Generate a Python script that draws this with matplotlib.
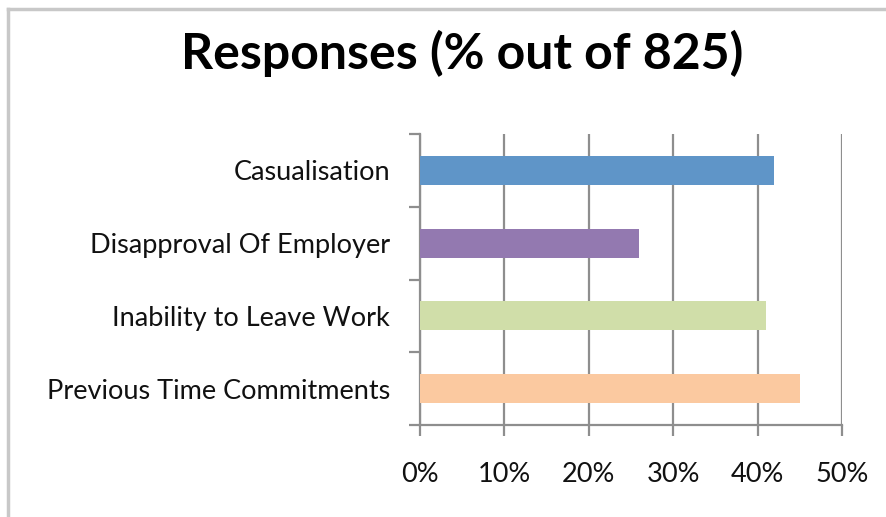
import matplotlib
matplotlib.use("Agg")
import matplotlib.pyplot as plt
from matplotlib.lines import Line2D
from matplotlib.ticker import FuncFormatter, FixedLocator

categories = [
    "Casualisation",
    "Disapproval Of Employer",
    "Inability to Leave Work",
    "Previous Time Commitments",
]
percent = [42, 26, 41, 45]
colors = ["#5F95C8", "#9379B0", "#D0DEA9", "#FBC9A0"]
x_ticks = [0, 10, 20, 30, 40, 50]

plt.rcParams["font.family"] = ["Lato", "DejaVu Sans"]

fig = plt.figure(figsize=(8.87, 5.17), dpi=100)
ax = fig.add_axes([420 / 887, 1 - 425 / 517, 422 / 887, 291 / 517])

ypos = list(range(len(categories)))[::-1]
ax.barh(ypos, percent, height=0.4, color=colors, zorder=3)

ax.set_xlim(0, 50)
ax.set_ylim(-0.5, len(categories) - 0.5)

ax.xaxis.set_major_locator(FixedLocator(x_ticks))
ax.xaxis.set_major_formatter(FuncFormatter(lambda v, p: f"{v:.0f}%"))
ax.set_yticks(ypos)
ax.set_yticklabels(categories)
ax.set_yticks([y + 0.5 for y in range(-1, len(categories))], minor=True)

ax.grid(axis="x", color="#8E8E8E", linewidth=1.6, zorder=1)
ax.tick_params(axis="x", length=8, width=1.6, color="#8E8E8E",
               labelsize=19.5, labelcolor="#111111", pad=19)
ax.tick_params(axis="y", which="major", length=0, labelsize=19.5,
               labelcolor="#111111", pad=21.5)
ax.tick_params(axis="y", which="minor", length=8, width=1.6, color="#8E8E8E")

for side in ("top", "right"):
    ax.spines[side].set_visible(False)
for side in ("left", "bottom"):
    ax.spines[side].set_color("#8E8E8E")
    ax.spines[side].set_linewidth(1.6)

fig.text(462 / 887, 1 - 53 / 517, "Responses (% out of 825)", ha="center",
         va="center", fontsize=36, fontweight="bold", color="#000000")

# outer chart frame
fig.add_artist(Line2D([8.5 / 887, 8.5 / 887], [0, 1 - 8.5 / 517],
                      transform=fig.transFigure, color="#C8C8C8", linewidth=2.5))
fig.add_artist(Line2D([8.5 / 887, 1], [1 - 8.5 / 517, 1 - 8.5 / 517],
                      transform=fig.transFigure, color="#C8C8C8", linewidth=2.5))

fig.savefig("out.png", dpi=100)
